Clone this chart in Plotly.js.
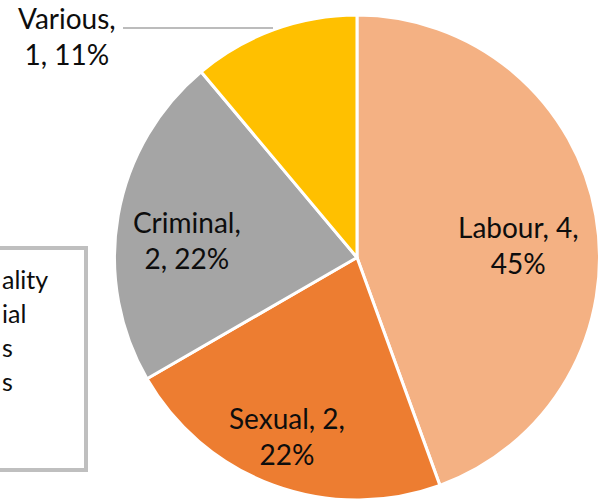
<!DOCTYPE html>
<html>
<head>
<meta charset="utf-8">
<script src="https://cdn.plot.ly/plotly-3.0.1.min.js"></script>
<style>html,body{margin:0;padding:0;background:#fff}#chart{width:602px;height:500px}</style>
</head>
<body>
<div id="chart"></div>
<script>
// Data
const categories = ["Labour", "Sexual", "Criminal", "Various"];
const values = [4, 2, 2, 1];
const percentLabels = ["45%", "22%", "22%", "11%"];
const sliceColors = ["#F4B183", "#ED7D31", "#A5A5A5", "#FFC000"];
// Legend fragments (cut off at the left edge in the reference)
const legendFragments = ["ality", "ial", "s", "s"];

const W = 602, H = 500;
const px = x => x / W;
const py = y => 1 - y / H;

// label layout: whether the value goes on the first line
const valueOnFirstLine = [true, true, false, false];
const labelPos = [[518, 245], [287, 436], [187, 240], [67, 36]];

const labelText = categories.map((c, i) => valueOnFirstLine[i]
  ? `${c}, ${values[i]},<br>${percentLabels[i]}`
  : `${c},<br>${values[i]}, ${percentLabels[i]}`);

const font = "Lato, 'Open Sans', sans-serif";

const annotations = labelText.map((t, i) => ({
  text: t, xref: "paper", yref: "paper",
  x: px(labelPos[i][0]), y: py(labelPos[i][1]),
  xanchor: "center", yanchor: "middle", showarrow: false,
  font: {family: font, size: 28, color: "#0d0d0d"}
}));

const legendY = [279, 313, 347, 381];
legendFragments.forEach((t, i) => annotations.push({
  text: t, xref: "paper", yref: "paper",
  x: 0, y: py(legendY[i]),
  xanchor: "left", yanchor: "middle", showarrow: false,
  font: {family: font, size: 25, color: "#0d0d0d"}
}));

const data = [{
  type: "pie",
  labels: categories,
  values: values,
  sort: false,
  direction: "clockwise",
  rotation: 0,
  textinfo: "none",
  hoverinfo: "label+value+percent",
  marker: {colors: sliceColors, line: {color: "#ffffff", width: 3}},
  domain: {x: [0.186, 1.0], y: [0.0, 0.97]},
  automargin: false
}];

const layout = {
  width: W, height: H,
  margin: {l: 0, r: 0, t: 0, b: 0},
  paper_bgcolor: "#ffffff",
  showlegend: false,
  annotations: annotations,
  shapes: [
    {type: "rect", xref: "paper", yref: "paper",
     x0: -0.02, x1: px(86), y0: py(470), y1: py(248),
     line: {color: "#BFBFBF", width: 4}, fillcolor: "rgba(0,0,0,0)"},
    {type: "line", xref: "paper", yref: "paper",
     x0: px(123), x1: px(273), y0: py(28), y1: py(28),
     line: {color: "#A6A6A6", width: 1.5}}
  ]
};

Plotly.newPlot("chart", data, layout, {displayModeBar: false, staticPlot: true});
</script>
</body>
</html>
